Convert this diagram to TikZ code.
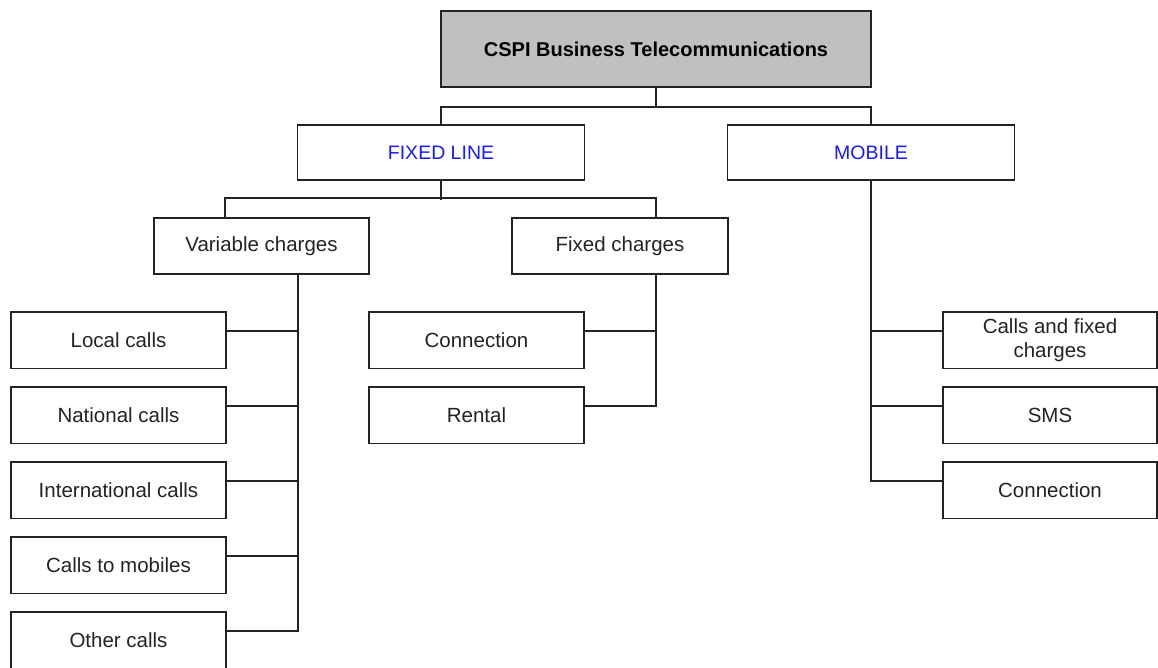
\documentclass[tikz,border=0pt]{standalone}
\usepackage{fontspec}
\setmainfont{Liberation Sans}
\usetikzlibrary{calc}
\definecolor{fillgrey}{RGB}{192,192,192}
\definecolor{lblue}{RGB}{25,25,255}
\definecolor{ink}{RGB}{35,35,35}
\begin{document}
\begin{tikzpicture}[x=1pt,y=-1pt,
  box/.style={draw=ink, line width=1.8pt, rectangle, inner sep=0pt,
    minimum width=215pt, minimum height=56.5pt,
    font=\fontsize{20.5}{24}\selectfont, text=ink, align=center},
  headbox/.style={box, minimum width=287pt, minimum height=55pt,
    text=lblue, font=\fontsize{19.5}{23}\selectfont},
  link/.style={draw=ink, line width=1.8pt}]
\useasboundingbox (0,0) rectangle (1158,668);
% top
\node[box, fill=fillgrey, minimum width=430pt, minimum height=76pt,
  text=black, font=\bfseries\fontsize{20}{24}\selectfont] (top) at (656,49) {CSPI Business Telecommunications};
% second level
\node[headbox] (fixed) at (441,152.5) {FIXED LINE};
\node[headbox] (mobile) at (871,152.5) {MOBILE};
% third level
\node[box, minimum height=56pt] (var) at (261.5,246) {Variable charges};
\node[box, minimum width=216pt, minimum height=56pt] (fixc) at (620,246) {Fixed charges};
% left column
\node[box] (local) at (118.5,340.25) {Local calls};
\node[box] (national) at (118.5,415.25) {National calls};
\node[box] (intl) at (118.5,490.25) {International calls};
\node[box] (mob) at (118.5,565.25) {Calls to mobiles};
\node[box] (other) at (118.5,640.25) {Other calls};
% middle column
\node[box] (conn) at (476.5,340.25) {Connection};
\node[box] (rental) at (476.5,415.25) {Rental};
% right column
\node[box, minimum width=214pt] (cf) at (1050,340.25) {Calls and fixed\\charges};
\node[box, minimum width=214pt] (sms) at (1050,415.25) {SMS};
\node[box, minimum width=214pt] (mconn) at (1050,490.25) {Connection};
% connection points
\foreach \n in {local,national,intl,mob,other,conn,rental}
  \coordinate (\n-c) at ($(\n.north east)!0.336!(\n.south east)$);
\foreach \n in {cf,sms,mconn}
  \coordinate (\n-c) at ($(\n.north west)!0.336!(\n.south west)$);
\coordinate (vt) at ($(var.north west)!0.333!(var.north east)$);
\coordinate (vb) at ($(var.south west)!0.67!(var.south east)$);
\coordinate (ft) at ($(fixc.north west)!0.667!(fixc.north east)$);
\coordinate (fb) at ($(fixc.south west)!0.667!(fixc.south east)$);
% top -> level 2
\draw[link] (top.south) -- ++(0,19) coordinate (tj);
\draw[link] (fixed.north) |- (tj) -| (mobile.north);
% fixed line -> level 3
\draw[link] (fixed.south) -- ++(0,19);
\draw[link] (vt) -- ++(0,-19) -| (ft);
% variable charges bus
\draw[link] (vb) |- (other-c);
\foreach \n in {local,national,intl,mob}
  \draw[link] (\n-c) -- (\n-c -| vb);
% fixed charges bus
\draw[link] (fb) |- (rental-c);
\draw[link] (conn-c) -- (conn-c -| fb);
% mobile bus
\draw[link] (mobile.south) |- (mconn-c);
\foreach \n in {cf,sms}
  \draw[link] (\n-c) -- (\n-c -| mobile.south);
\end{tikzpicture}
\end{document}
